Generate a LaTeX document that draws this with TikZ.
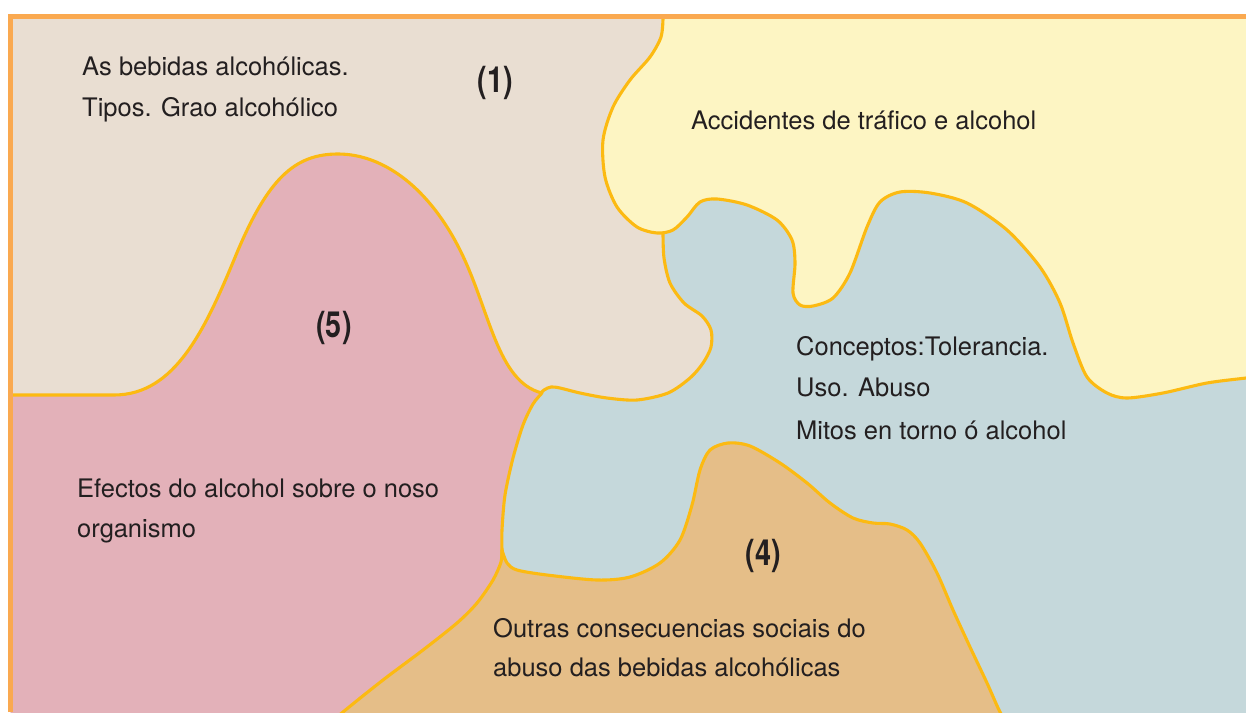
\documentclass[tikz,border=0pt]{standalone}
\usepackage{fontspec}
\setmainfont{TeX Gyre Heros}
\definecolor{tanc}{HTML}{E9DED2}
\definecolor{yelc}{HTML}{FDF5C3}
\definecolor{bluc}{HTML}{C5D8DB}
\definecolor{orac}{HTML}{E5BE88}
\definecolor{pinc}{HTML}{E3B1B9}
\definecolor{edge}{HTML}{FCBA12}
\definecolor{frame}{HTML}{FAA950}
\definecolor{ink}{HTML}{231F20}
\begin{document}
\begin{tikzpicture}[x=1pt,y=-1pt,
  region/.style={draw=edge, line width=3.1pt, line join=round},
  lbl/.style={anchor=base west, font=\fontsize{25.5}{41}\selectfont, text=ink, inner sep=0pt},
  num/.style={font=\fontsize{36}{36}\selectfont\bfseries, text=ink, inner sep=0pt},
  frameline/.style={draw=frame, line width=5pt}]
\useasboundingbox[fill=white] (0,0) rectangle (1246,712);
\begin{scope}
\clip (10.5,16.5) rectangle (1246,712);
\fill[tanc] (0,0) rectangle (1260,730);
% blue region (3)
\path[region, fill=bluc] (663,100) -- (663,233) -- plot[smooth] coordinates {(663,233) (664,258) (670,283) (684,303) (702,316) (711,330) (711,347) (703,363) (690,378) (668,393) (637,400) (607,398) (580,393) (560,388) (551,387) (544,390) (538,396)} -- (480,420) -- (480,730) -- (1260,730) -- (1260,100) -- cycle;
% yellow region (2)
\path[region, fill=yelc] (663,0) -- plot[smooth] coordinates {(663,18) (661,37) (650,57) (630,80) (613,107) (603,140) (605,177) (617,207) (637,227) (657,233) (673,230) (687,217) (700,202) (717,199) (747,205) (777,220) (792,240) (795,263) (793,293) (800,305) (813,306) (833,298) (850,273) (867,227) (880,202) (900,192) (930,193) (967,203) (1007,230) (1040,267) (1060,303) (1073,343) (1087,377) (1107,393) (1127,398) (1163,393) (1207,383) (1246,378) (1260,376)} -- (1260,0) -- cycle;
% pink region (5)
\path[region, fill=pinc] (0,395) -- (114,395)
  .. controls (175,395) and (205,330) .. (236,255)
  .. controls (268,178) and (295,154) .. (338,154)
  .. controls (385,154) and (430,190) .. (460,250)
  .. controls (490,310) and (497,382) .. (542,393)
  -- plot[smooth] coordinates {(542,393) (533,404) (523,425) (513,458) (505,495) (502,530) (502,550)} -- (502,730) -- (0,730) -- cycle;
% orange region (4)
\path[region, fill=orac] plot[smooth] coordinates {(502,550) (507,563) (517,570) (547,575) (597,580) (630,577) (660,563) (680,540) (692,505) (700,470) (710,450) (728,443) (750,446) (780,463) (807,483) (830,503) (853,518) (873,523) (890,524) (907,530) (920,543) (937,573) (953,610) (970,647) (987,683) (1000,712) (1011,730)} -- (325,730) -- plot[smooth] coordinates {(325,728) (343,712) (383,680) (423,650) (457,623) (477,603) (493,580) (501,562) (502,550)} -- cycle;
\end{scope}
\draw[frameline] (10.5,712) -- (10.5,16.5) -- (1246,16.5);
% texts
\node[lbl] (t1a) at (82,75) {As bebidas alcohólicas.};
\node[lbl] (t1b) at (82,116) {Tipos. Grao alcohólico};
\node[num] (n1) at (495,83) {\scalebox{0.8}[1]{(1)}};
\node[lbl] (t2) at (691,129) {Accidentes de tráfico e alcohol};
\node[lbl] (t3a) at (796,355) {Conceptos:Tolerancia.};
\node[lbl] (t3b) at (796,396) {Uso. Abuso};
\node[lbl] (t3c) at (796,439) {Mitos en torno ó alcohol};
\node[num] (n5) at (334,328) {\scalebox{0.8}[1]{(5)}};
\node[lbl] (t5a) at (77,497) {Efectos do alcohol sobre o noso};
\node[lbl] (t5b) at (77,537) {organismo};
\node[num] (n4) at (763,556) {\scalebox{0.8}[1]{(4)}};
\node[lbl] (t4a) at (493,637) {Outras consecuencias sociais do};
\node[lbl] (t4b) at (493,676) {abuso das bebidas alcohólicas};
\end{tikzpicture}
\end{document}
